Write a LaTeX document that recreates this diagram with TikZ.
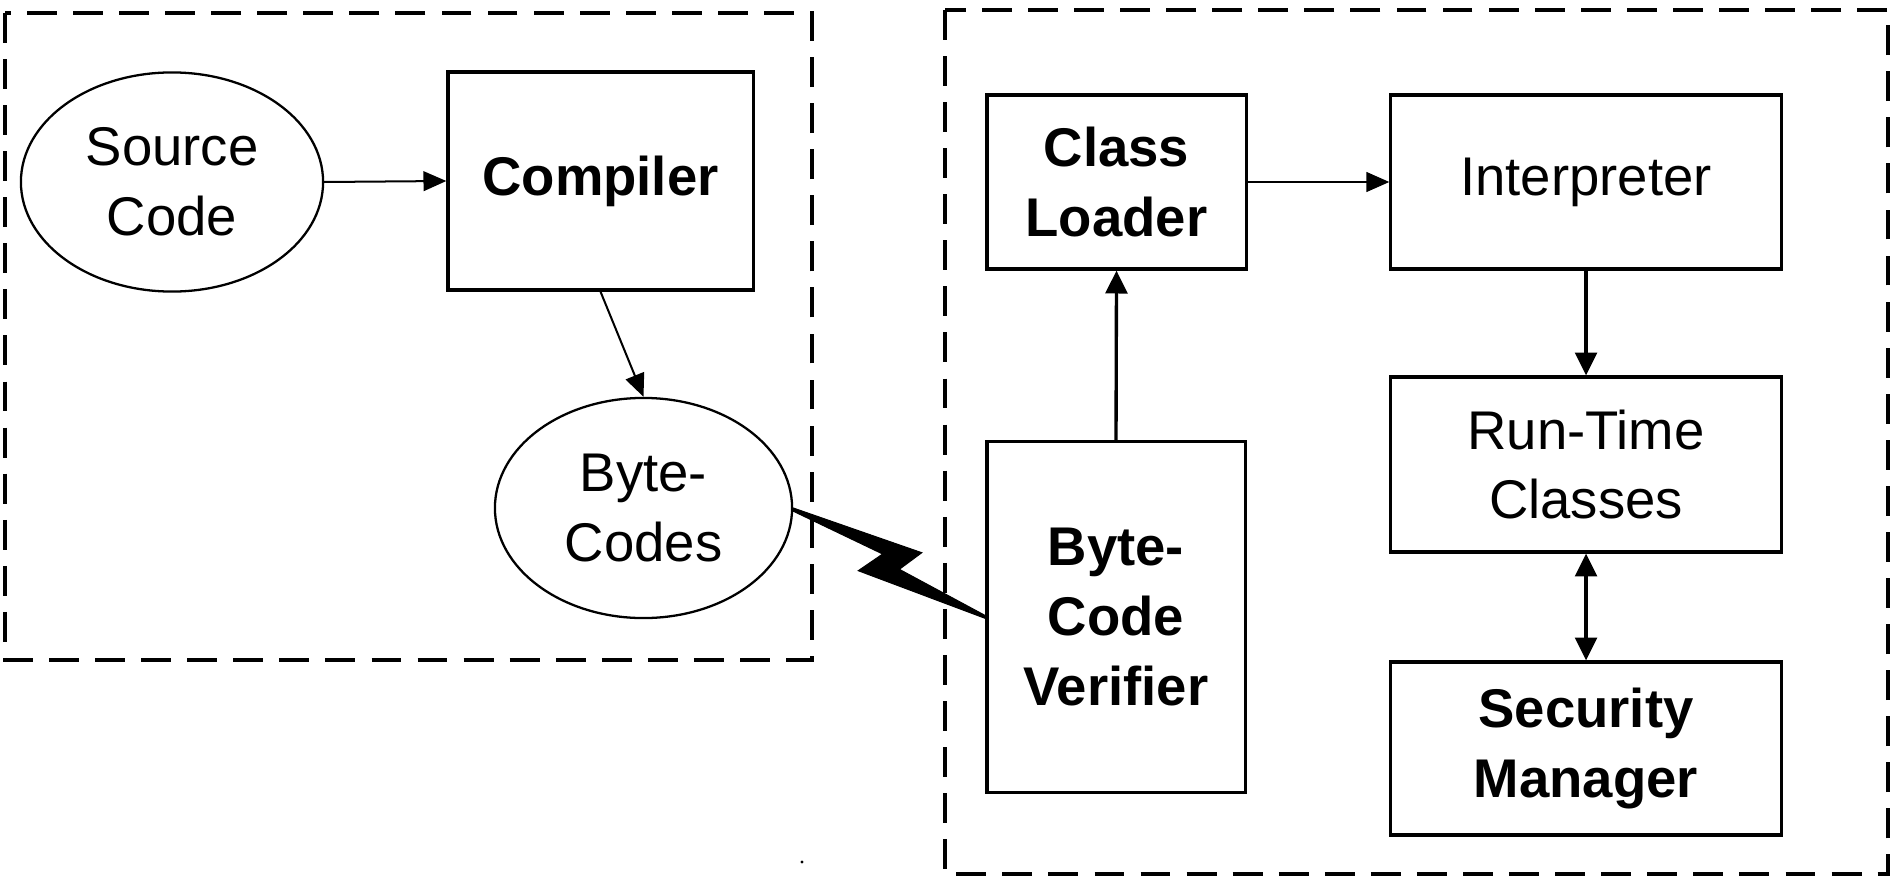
\documentclass[tikz,border=0pt]{standalone}
\usepackage{fontspec}
\setmainfont{Liberation Sans}
\usetikzlibrary{arrows.meta,shapes.geometric}
\begin{document}
\begin{tikzpicture}[x=0.01cm,y=-0.01cm,
  lbl/.style={font=\fontsize{15.5}{19.8}\selectfont, align=center, inner sep=0pt},
  blk/.style={draw, line width=0.9pt, rectangle, lbl},
  ovl/.style={draw, line width=0.65pt, ellipse, lbl},
  frame/.style={line width=1pt, dash pattern=on 8.5pt off 4.6pt},
  lightarrow/.style={line width=0.57pt, -{Triangle[length=6.5pt,width=5.6pt]}},
  heavyarrow/.style={line width=0.95pt, -{Triangle[length=6.5pt,width=6.2pt]}},
  heavyboth/.style={line width=0.95pt, {Triangle[length=6.5pt,width=6.2pt]}-{Triangle[length=6.5pt,width=6.2pt]}}]
\useasboundingbox (0,0) rectangle (1892,879);

% compile-time and run-time groupings
\draw[frame] (5,13) rectangle (812,660);
\draw[frame] (945,10) rectangle (1888,874);

% compile side
\node[ovl, minimum width=3.02cm, minimum height=2.19cm] (src) at (172,182) {Source\\Code};
\node[blk, minimum width=3.05cm, minimum height=2.18cm] (comp) at (600.5,181) {\textbf{Compiler}};
\node[ovl, minimum width=2.97cm, minimum height=2.20cm] (byte) at (643.5,508) {Byte-\\Codes};

% run side
\node[blk, minimum width=2.59cm, minimum height=1.74cm] (cl) at (1116.5,182) {\textbf{Class}\\\textbf{Loader}};
\node[blk, minimum width=3.90cm, minimum height=1.74cm] (interp) at (1586,182) {Interpreter};
\node[blk, minimum width=2.58cm, minimum height=3.50cm] (verif) at (1116,617) {\textbf{Byte-}\\\textbf{Code}\\\textbf{Verifier}};
\node[blk, minimum width=3.90cm, minimum height=1.75cm] (rt) at (1586,464.5) {Run-Time\\Classes};
\node[blk, minimum width=3.90cm, minimum height=1.73cm] (sec) at (1586,748.5) {\textbf{Security}\\\textbf{Manager}};

% connectors
\draw[lightarrow] (src.east) -- (comp.west);
\draw[lightarrow] (comp.south) -- (byte.north);
\draw[lightarrow] (cl.east) -- (interp.west);
\draw[heavyarrow] (verif.north) -- (cl.south);
\draw[heavyarrow] (interp.south) -- (rt.north);
\draw[heavyboth] (rt.south) -- (sec.north);

% lightning-bolt link from the byte-codes to the verifier
\filldraw[line width=0.3pt]
  (byte.east) -- (921.7,552.7) -- (899.3,569.3) -- ([yshift=0.4pt]verif.west)
  -- ([yshift=-0.4pt]verif.west) -- (858.3,570.7) -- (882.7,554)
  -- ([yshift=-0.9pt]byte.east) -- cycle;

% stray speck below the frames
\fill (802,862) circle (1.6);
\end{tikzpicture}
\end{document}
